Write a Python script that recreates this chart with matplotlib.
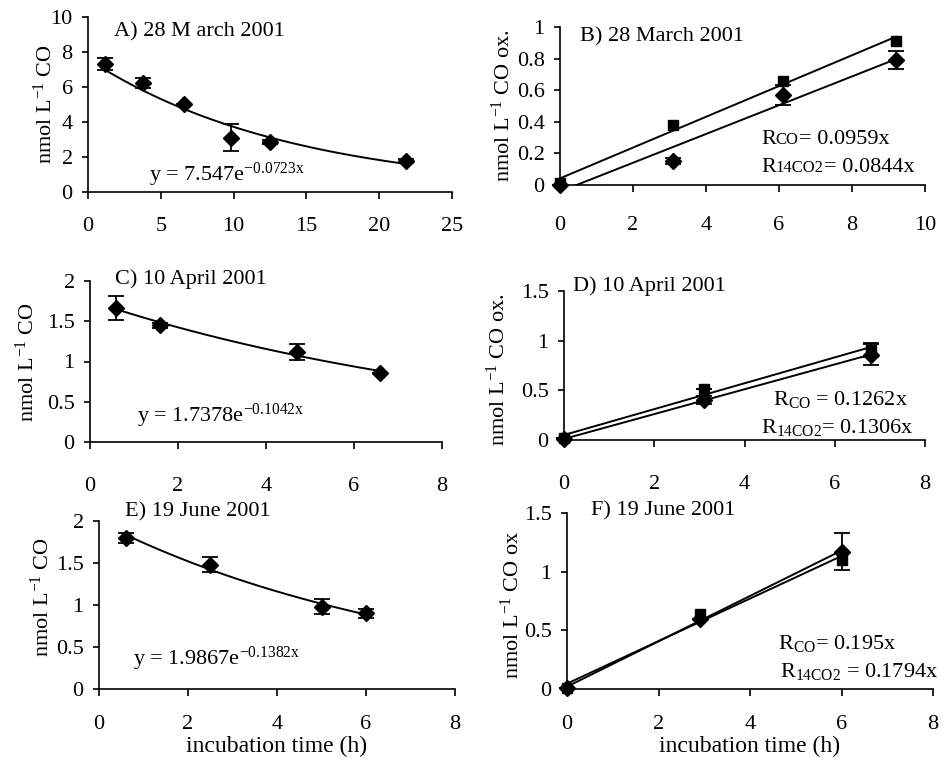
import numpy as np
import matplotlib
matplotlib.use("Agg")
import matplotlib.pyplot as plt
from matplotlib.offsetbox import TextArea, HPacker, AnnotationBbox

plt.rcParams['font.family'] = ['Liberation Serif', 'DejaVu Serif']
plt.rcParams['mathtext.fontset'] = 'custom'
plt.rcParams['mathtext.rm'] = 'Liberation Serif'
plt.rcParams['mathtext.it'] = 'Liberation Serif:italic'
plt.rcParams['mathtext.bf'] = 'Liberation Serif:bold'

# ---------------- data ----------------
# A) 28 March 2001 - CO concentration
a_x = [1.2, 3.8, 6.6, 9.8, 12.5, 21.85]
a_y = [7.32, 6.22, 5.02, 3.1, 2.86, 1.78]
a_err = [0.33, 0.27, 0.0, 0.76, 0.1, 0.12]
# B) 28 March 2001 - CO oxidized
b_x = [0, 3.1, 6.1, 9.2]
b_sq = [0.01, 0.38, 0.66, 0.91]
b_di = [0.0, 0.15, 0.57, 0.79]
b_di_err = [0.0, 0.02, 0.065, 0.055]
# C) 10 April 2001
c_x = [0.6, 1.6, 4.7, 6.6]
c_y = [1.66, 1.45, 1.12, 0.86]
c_err = [0.15, 0.03, 0.1, 0.0]
# D) 10 April 2001
d_x = [0, 3.1, 6.8]
d_sq = [0.02, 0.51, 0.91]
d_sq_err = [0.0, 0.0, 0.07]
d_di = [0.01, 0.40, 0.86]
d_di_err = [0.0, 0.04, 0.11]
# E) 19 June 2001
e_x = [0.6, 2.5, 5.0, 6.0]
e_y = [1.8, 1.48, 0.98, 0.9]
e_err = [0.06, 0.09, 0.09, 0.05]
# F) 19 June 2001
f_x = [0, 2.9, 6.0]
f_sq = [0.01, 0.64, 1.10]
f_di = [0.01, 0.60, 1.17]
f_di_err = [0.0, 0.0, 0.16]

W, H = 946, 763
fig = plt.figure(figsize=(W / 100, H / 100), dpi=100)

FS = 16


def make_ax(l, r, t, b, xlim, ylim, xticks, yticks, xpad):
    ax = fig.add_axes([l / W, 1 - b / H, (r - l) / W, (b - t) / H])
    ax.set_xlim(*xlim)
    ax.set_ylim(*ylim)
    ax.set_xticks(xticks)
    ax.set_yticks(yticks)
    ax.set_xticklabels([f"{v:g}" for v in xticks])
    ax.set_yticklabels([f"{v:g}" for v in yticks])
    for s in ['top', 'right']:
        ax.spines[s].set_visible(False)
    for s in ['left', 'bottom']:
        ax.spines[s].set_linewidth(1.2)
        ax.spines[s].set_color('black')
    ax.tick_params(axis='x', direction='out', length=5, width=1.2, pad=xpad, labelsize=FS)
    ax.tick_params(axis='y', direction='out', length=4, width=1.2, pad=7, labelsize=FS)
    ax.patch.set_alpha(0)
    return ax


def ftext(x, y, s, size=FS, ha='left', va='center', rot=0):
    fig.text(x / W, 1 - y / H, s, fontsize=size, ha=ha, va=va, rotation=rot)


def rich(x, y, parts):
    boxes = [TextArea(t, textprops=dict(size=sz, family='Liberation Serif')) for t, sz in parts]
    pack = HPacker(children=boxes, align='baseline', pad=0, sep=0)
    ab = AnnotationBbox(pack, (x, H - y), xycoords='figure pixels', box_alignment=(0, 0.5),
                        frameon=False, pad=0)
    fig.add_artist(ab)


def expfit_line(ax, x, y):
    k, lna = np.polyfit(x, np.log(y), 1)
    xs = np.linspace(min(x), max(x), 60)
    ax.plot(xs, np.exp(lna) * np.exp(k * xs), color='black', lw=1.4)


def linfit_line(ax, x, y):
    m, c = np.polyfit(x, y, 1)
    xs = np.array([min(x), max(x)])
    ax.plot(xs, m * xs + c, color='black', lw=1.4)


def diamonds(ax, x, y, err):
    ax.errorbar(x, y, yerr=err, fmt='D', color='black', ms=8, capsize=5.5,
                elinewidth=1.3, capthick=1.3, clip_on=False, zorder=3)


def squares(ax, x, y, err=None):
    ax.errorbar(x, y, yerr=err, fmt='s', color='black', ms=7.5, capsize=5.5,
                elinewidth=1.3, capthick=1.3, clip_on=False, zorder=3)


SUP = r"$^{\mathregular{%s}}$"

# ----- A -----
axA = make_ax(88, 452, 17, 192, (0, 25), (0, 10), [0, 5, 10, 15, 20, 25], [0, 2, 4, 6, 8, 10], 13)
expfit_line(axA, a_x, a_y)
diamonds(axA, a_x, a_y, a_err)
ftext(114, 32, "A) 28 M arch 2001")
ftext(149, 175, "y = 7.547e" + SUP % "-0.0723x")
ftext(45, 104, "nmol L" + SUP % "-1" + " CO", rot=90, ha='center')

# ----- B -----
axB = make_ax(560, 925, 27, 185, (0, 10), (0, 1), [0, 2, 4, 6, 8, 10], [0, 0.2, 0.4, 0.6, 0.8, 1], 17)
linfit_line(axB, b_x, b_sq)
linfit_line(axB, b_x, b_di)
squares(axB, b_x, b_sq)
diamonds(axB, b_x, b_di, b_di_err)
ftext(580, 37, "B) 28 March 2001")
rich(761, 140, [("R", FS), ("CO", 12), ("= 0.0959x", FS)])
rich(761, 167, [("R", FS), ("14CO2", 12), ("= 0.0844x", FS)])
ftext(503, 106, "nmol L" + SUP % "-1" + " CO ox.", rot=90, ha='center')

# ----- C -----
axC = make_ax(90, 442, 281, 442, (0, 8), (0, 2), [0, 2, 4, 6, 8], [0, 0.5, 1, 1.5, 2], 20)
expfit_line(axC, c_x, c_y)
diamonds(axC, c_x, c_y, c_err)
ftext(115, 279, "C) 10 April 2001")
ftext(137, 416, "y = 1.7378e" + SUP % "-0.1042x")
ftext(27, 362, "nmol L" + SUP % "-1" + " CO", rot=90, ha='center')

# ----- D -----
axD = make_ax(564, 925, 291, 440, (0, 8), (0, 1.5), [0, 2, 4, 6, 8], [0, 0.5, 1, 1.5], 20)
linfit_line(axD, d_x, d_sq)
linfit_line(axD, d_x, d_di)
squares(axD, d_x, d_sq, d_sq_err)
diamonds(axD, d_x, d_di, d_di_err)
ftext(573, 286, "D) 10 April 2001")
ftext(773, 400, r"R$_{\mathregular{CO}}$ = 0.1262x")
ftext(761, 427, r"R$_{\mathregular{14CO2}}$= 0.1306x")
ftext(498, 370, "nmol L" + SUP % "-1" + " CO ox.", rot=90, ha='center')

# ----- E -----
axE = make_ax(99, 455, 521, 689, (0, 8), (0, 2), [0, 2, 4, 6, 8], [0, 0.5, 1, 1.5, 2], 14)
expfit_line(axE, e_x, e_y)
diamonds(axE, e_x, e_y, e_err)
ftext(125, 512, "E) 19 June 2001")
ftext(133, 659, "y = 1.9867e" + SUP % "-0.1382x")
ftext(42, 597, "nmol L" + SUP % "-1" + " CO", rot=90, ha='center')
ftext(277, 746, "incubation time (h)", size=17, ha='center')

# ----- F -----
axF = make_ax(567, 933, 513, 689, (0, 8), (0, 1.5), [0, 2, 4, 6, 8], [0, 0.5, 1, 1.5], 14)
linfit_line(axF, f_x, f_sq)
linfit_line(axF, f_x, f_di)
squares(axF, f_x, f_sq)
diamonds(axF, f_x, f_di, f_di_err)
ftext(591, 511, "F) 19 June 2001")
ftext(778, 643, r"R$_{\mathregular{CO}}$= 0.195x")
ftext(780, 672, r"R$_{\mathregular{14CO2}}$ = 0.1794x")
ftext(512, 605, "nmol L" + SUP % "-1" + " CO ox", rot=90, ha='center')
ftext(750, 746, "incubation time (h)", size=17, ha='center')

fig.savefig("out.png", dpi=100)
